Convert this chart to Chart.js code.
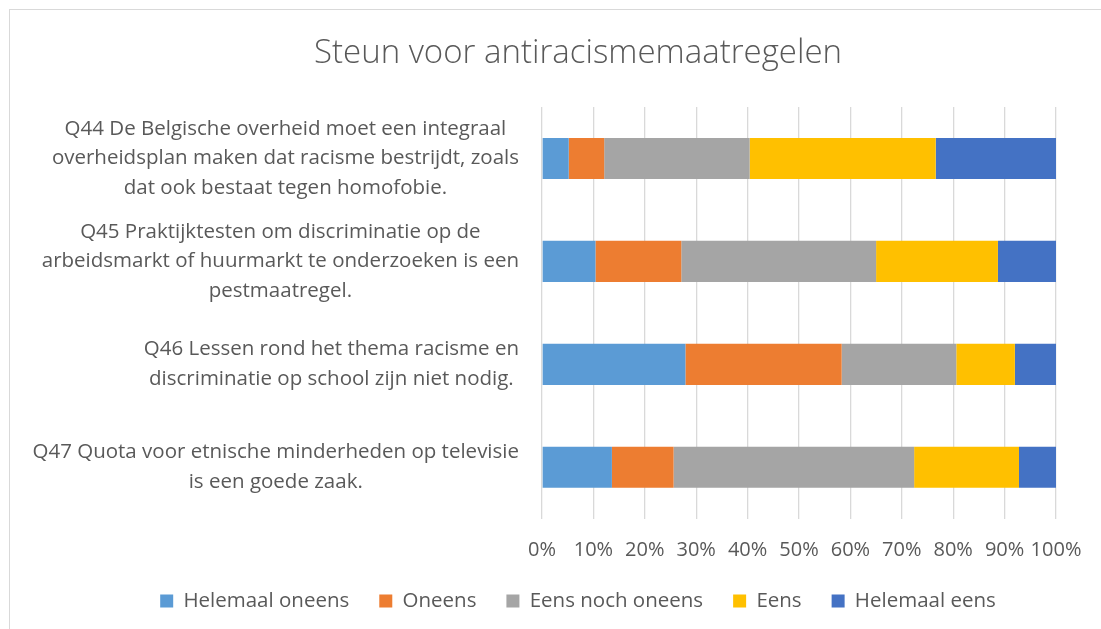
<!DOCTYPE html>
<html>
<head>
<meta charset="utf-8">
<script src="https://cdn.jsdelivr.net/npm/chart.js@4.4.1/dist/chart.umd.min.js"></script>
<style>
  html, body { margin: 0; padding: 0; overflow: hidden; background: #fff; }
  #frame {
    position: absolute; left: 9px; top: 9px;
    border: 1px solid #d9d9d9;
    width: 1136px; height: 640px;
  }
</style>
</head>
<body>
<div id="frame"><canvas id="chart" width="1136" height="640"></canvas></div>
<script>
// vragen (elke regel apart, zoals in Excel)
const questions = [
    ['Q44 De Belgische overheid moet een integraal', 'overheidsplan maken dat racisme bestrijdt, zoals', 'dat ook bestaat tegen homofobie.'],
    ['Q45 Praktijktesten om discriminatie op de', 'arbeidsmarkt of huurmarkt te onderzoeken is een', 'pestmaatregel.'],
    ['Q46 Lessen rond het thema racisme en', 'discriminatie op school zijn niet nodig.'],
    ['Q47 Quota voor etnische minderheden op televisie', 'is een goede zaak.']
];

// percentages per antwoord
const helemaalOneens = [5.2, 10.4, 27.9, 13.6];
const oneens = [6.9, 16.7, 30.4, 12.0];
const eensNochOneens = [28.3, 37.9, 22.3, 46.8];
const eens = [36.2, 23.7, 11.4, 20.4];
const helemaalEens = [23.4, 11.3, 8.0, 7.2];

const xTicks = [0, 10, 20, 30, 40, 50, 60, 70, 80, 90, 100];

const textColor = '#595959';
const fontFamily = '"Open Sans", "Noto Sans", sans-serif';

// categorie-labels zelf tekenen: regels gecentreerd, blok rechts uitgelijnd
const questionLabels = {
    id: 'questionLabels',
    afterDraw(chart) {
        let ctx = chart.ctx;
        let yScale = chart.scales.y;
        let right = chart.chartArea.left - 23;
        ctx.save();
        ctx.font = '20.5px ' + fontFamily;
        ctx.fillStyle = textColor;
        ctx.textAlign = 'center';
        ctx.textBaseline = 'middle';
        questions.forEach(function(lines, i) {
            let maxW = Math.max.apply(null, lines.map(l => ctx.measureText(l).width));
            let cx = right - maxW / 2;
            let cy = yScale.getPixelForTick(i);
            let lh = 29.5;
            lines.forEach(function(line, j) {
                ctx.fillText(line, cx, cy + (j - (lines.length - 1) / 2) * lh);
            });
        });
        ctx.restore();
    }
};

let ctx = document.getElementById('chart').getContext('2d');
let chart = new Chart(ctx, {
    type: 'bar',
    data: {
        labels: questions.map(q => q.join(' ')),
        datasets: [
            { label: 'Helemaal oneens', data: helemaalOneens, backgroundColor: '#5B9BD5' },
            { label: 'Oneens', data: oneens, backgroundColor: '#ED7D31' },
            { label: 'Eens noch oneens', data: eensNochOneens, backgroundColor: '#A5A5A5' },
            { label: 'Eens', data: eens, backgroundColor: '#FFC000' },
            { label: 'Helemaal eens', data: helemaalEens, backgroundColor: '#4472C4' }
        ]
    },
    options: {
        indexAxis: 'y',
        responsive: false,
        animation: false,
        layout: { padding: { left: 90, right: 90, top: 0, bottom: 28.75 } },
        datasets: {
            bar: { barPercentage: 0.4, categoryPercentage: 1.0, borderWidth: 0 }
        },
        scales: {
            x: {
                stacked: true,
                min: 0,
                max: 100,
                afterBuildTicks: function(scale) {
                    scale.ticks = xTicks.map(v => ({ value: v }));
                },
                afterFit: function(scale) { scale.height -= 22; },
                grid: { color: '#d9d9d9', lineWidth: 1.3, drawTicks: false },
                border: { display: false },
                ticks: {
                    padding: 20,
                    maxRotation: 0,
                    minRotation: 0,
                    autoSkip: false,
                    color: textColor,
                    font: { family: fontFamily, size: 20 },
                    callback: v => v + '%'
                }
            },
            y: {
                stacked: true,
                grid: { display: false },
                border: { display: false },
                ticks: { display: false },
                afterFit: function(scale) { scale.width = 442; }
            }
        },
        plugins: {
            title: {
                display: true,
                text: 'Steun voor antiracismemaatregelen',
                color: textColor,
                font: { family: fontFamily, size: 33, weight: 300 },
                padding: { top: 24, bottom: 33.4 }
            },
            legend: {
                position: 'bottom',
                labels: {
                    color: textColor,
                    font: { family: fontFamily, size: 20.5 },
                    boxWidth: 13,
                    boxHeight: 13,
                    padding: 30
                }
            },
            tooltip: { enabled: false }
        }
    },
    plugins: [questionLabels]
});
</script>
</body>
</html>
